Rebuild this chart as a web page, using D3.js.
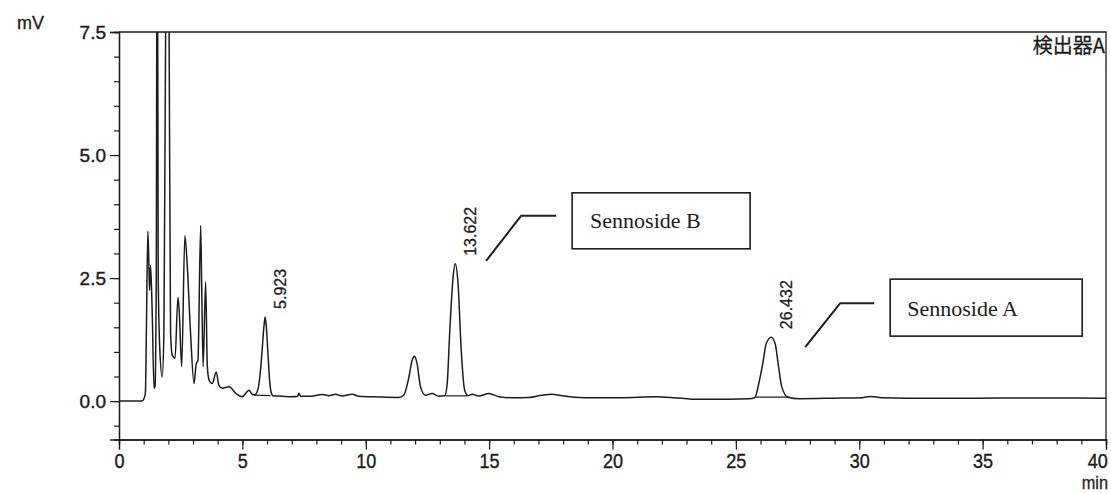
<!DOCTYPE html>
<html>
<head>
<meta charset="utf-8">
<script src="https://cdn.jsdelivr.net/npm/d3@7/dist/d3.min.js"></script>
<style>
  html, body { margin: 0; padding: 0; background: #fff; }
  svg { display: block; }
</style>
</head>
<body>
<svg id="chart" width="1111" height="493"></svg>
<script>
// Chromatogram trace: retention time (min) and detector signal (mV)
const timeMin = [
  0.00, 0.50, 0.93, 1.01, 1.07, 1.11, 1.17, 1.21, 1.24, 1.28,
  1.35, 1.42, 1.46, 1.51, 1.55, 1.59, 1.65, 1.75, 1.82, 1.89,
  1.96, 2.03, 2.09, 2.16, 2.27, 2.39, 2.44, 2.54, 2.67, 2.77,
  2.90, 3.04, 3.13, 3.20, 3.31, 3.35, 3.41, 3.51, 3.58, 3.65,
  3.78, 3.94, 4.05, 4.18, 4.46, 4.73, 4.99, 5.27, 5.40, 5.50,
  5.62, 5.72, 5.80, 5.88, 5.923, 5.97, 6.03, 6.10, 6.16, 6.24,
  6.60, 7.00, 7.24, 7.29, 7.36, 7.80, 8.23, 8.50, 8.78, 9.04,
  9.45, 9.72, 10.50, 11.34, 11.54, 11.75, 11.88, 11.98, 12.08, 12.22,
  12.42, 12.69, 12.96, 13.20, 13.30, 13.40, 13.54, 13.622, 13.74, 13.87,
  14.01, 14.15, 14.31, 14.58, 14.99, 15.39, 15.93, 16.61, 17.14, 17.55,
  17.82, 18.87, 20.32, 21.76, 22.50, 23.21, 24.66, 25.53, 25.76, 25.96,
  26.09, 26.23, 26.432, 26.59, 26.73, 26.86, 27.11, 27.56, 29.00, 30.10,
  30.46, 30.90, 31.91, 34.80, 37.70, 39.87, 40.00
];
const signalMv = [
  0.00, 0.00, 0.00, 0.05, 0.17, 1.44, 3.45, 2.80, 2.25, 2.76,
  1.71, 0.26, 0.30, 2.50, 12.0, 2.50, 1.10, 0.49, 1.40, 7.60,
  10.5, 7.60, 1.38, 0.93, 0.87, 2.11, 1.84, 0.70, 3.36, 2.72,
  1.38, 0.36, 0.76, 0.83, 3.57, 2.39, 0.70, 2.42, 0.70, 0.43,
  0.36, 0.59, 0.32, 0.26, 0.29, 0.16, 0.09, 0.22, 0.14, 0.13,
  0.22, 0.55, 1.03, 1.55, 1.71, 1.52, 1.03, 0.45, 0.19, 0.11,
  0.10, 0.09, 0.10, 0.16, 0.10, 0.10, 0.135, 0.11, 0.14, 0.105,
  0.14, 0.10, 0.085, 0.075, 0.12, 0.49, 0.83, 0.91, 0.76, 0.29,
  0.12, 0.155, 0.10, 0.107, 0.35, 1.37, 2.52, 2.79, 2.39, 1.03,
  0.22, 0.11, 0.14, 0.105, 0.155, 0.09, 0.07, 0.075, 0.12, 0.14,
  0.12, 0.07, 0.07, 0.09, 0.07, 0.04, 0.04, 0.05, 0.07, 0.43,
  0.76, 1.17, 1.30, 1.17, 0.70, 0.29, 0.08, 0.05, 0.06, 0.07,
  0.095, 0.07, 0.06, 0.06, 0.065, 0.06, 0.06
];

// Axis ticks
const xMajorTicks = [0, 5, 10, 15, 20, 25, 30, 35, 40];
const xMinorTicks = d3.range(0, 41, 1);
const yMajorTicks = [0, 2.5, 5, 7.5];
const yMajorLabels = ["0.0", "2.5", "5.0", "7.5"];
const yMinorTicks = [-0.5, 0, 0.5, 1, 1.5, 2, 2.5, 3, 3.5, 4, 4.5, 5, 5.5, 6, 6.5, 7, 7.5];

// Integrated peaks: apex time / height and the integration baseline
const peakTimes = [5.923, 13.622, 26.432];
const peakHeights = [1.71, 2.79, 1.30];
const baseStartTime = [5.47, 13.23, 25.79];
const baseEndTime = [6.14, 14.11, 27.16];
const baseStartMv = [0.12, 0.107, 0.08];
const baseEndMv = [0.11, 0.107, 0.08];

// Identified compounds
const compoundNames = ["Sennoside B", "Sennoside A"];
const compoundTimes = [13.622, 26.432];
const compoundHeights = [2.79, 1.30];

const detectorName = "検出器A";
const yUnit = "mV";
const xUnit = "min";

// ---- layout ----
const svg = d3.select("#chart");
const plotLeft = 119, plotRight = 1106, plotTop = 32, plotBottom = 439.5;
const ink = "#1c1c1c";
const sans = "'Liberation Sans', Arial, sans-serif";

const x = d3.scaleLinear().domain([0, 40]).range([plotLeft, plotRight]);
const y = d3.scaleLinear().domain([-0.78, 7.5]).range([plotBottom, plotTop]);

svg.append("defs").append("clipPath").attr("id", "plot-clip")
  .append("rect").attr("x", plotLeft).attr("y", plotTop)
  .attr("width", plotRight - plotLeft).attr("height", plotBottom - plotTop);

// frame: top and right edges
svg.append("path")
  .attr("d", `M${plotLeft},${plotTop}H${plotRight}V${plotBottom}`)
  .attr("fill", "none").attr("stroke", ink).attr("stroke-width", 1.3);

// x axis: minor + major ticks
const xMinor = svg.append("g").attr("transform", `translate(0,${plotBottom})`)
  .call(d3.axisBottom(x).tickValues(xMinorTicks).tickSize(5).tickFormat(""));
const xMajor = svg.append("g").attr("transform", `translate(0,${plotBottom})`)
  .call(d3.axisBottom(x).tickValues(xMajorTicks).tickSize(10).tickPadding(4).tickFormat(d3.format("d")));
[xMinor, xMajor].forEach(g => {
  g.select(".domain").attr("stroke", ink).attr("stroke-width", 1.3);
  g.selectAll(".tick line").attr("stroke", ink).attr("stroke-width", 1.2);
});
xMajor.selectAll(".tick text")
  .attr("font-family", sans).attr("font-size", 21).attr("fill", ink)
  .attr("stroke", ink).attr("stroke-width", 0.4)
  .attr("transform", "scale(0.86,1)")
  // the last label sits flush against the right edge of the frame
  .filter(d => d === 40).attr("text-anchor", "end").attr("x", 1.5);

// y axis: minor + major ticks
const yMinor = svg.append("g").attr("transform", `translate(${plotLeft},0)`)
  .call(d3.axisLeft(y).tickValues(yMinorTicks).tickSize(5).tickFormat(""));
const yMajor = svg.append("g").attr("transform", `translate(${plotLeft},0)`)
  .call(d3.axisLeft(y).tickValues(yMajorTicks).tickSize(9).tickPadding(4)
    .tickFormat((d, i) => yMajorLabels[i]));
[yMinor, yMajor].forEach(g => {
  g.select(".domain").attr("stroke", ink).attr("stroke-width", 1.3);
  g.selectAll(".tick line").attr("stroke", ink).attr("stroke-width", 1.2);
});
yMajor.selectAll(".tick text")
  .attr("font-family", sans).attr("font-size", 19).attr("fill", ink)
  .attr("stroke", ink).attr("stroke-width", 0.4);

// unit labels
svg.append("text").attr("x", 17).attr("y", 29).text(yUnit)
  .attr("font-family", sans).attr("font-size", 18).attr("fill", ink)
  .attr("stroke", ink).attr("stroke-width", 0.3);
svg.append("text").attr("transform", `translate(${plotRight + 2},489) scale(0.86,1)`)
  .attr("text-anchor", "end").text(xUnit)
  .attr("font-family", sans).attr("font-size", 19).attr("fill", ink)
  .attr("stroke", ink).attr("stroke-width", 0.3);

// detector name
svg.append("text").attr("x", plotRight - 1).attr("y", 53).attr("text-anchor", "end")
  .text(detectorName)
  .attr("font-family", "'Noto Sans CJK JP', 'Noto Sans CJK SC', sans-serif")
  .attr("font-size", 20).attr("fill", ink)
  .attr("stroke", ink).attr("stroke-width", 0.3);

// trace
const points = timeMin.map((t, i) => [t, signalMv[i]]);
const line = d3.line().x(d => x(d[0])).y(d => y(d[1])).curve(d3.curveMonotoneX);
svg.append("path").datum(points)
  .attr("clip-path", "url(#plot-clip)")
  .attr("d", line)
  .attr("fill", "none").attr("stroke", ink).attr("stroke-width", 1.5)
  .attr("stroke-linejoin", "round");

// integration baselines
svg.append("g").selectAll("line").data(peakTimes).join("line")
  .attr("x1", (d, i) => x(baseStartTime[i])).attr("y1", (d, i) => y(baseStartMv[i]))
  .attr("x2", (d, i) => x(baseEndTime[i])).attr("y2", (d, i) => y(baseEndMv[i]))
  .attr("stroke", ink).attr("stroke-width", 1.2);

// retention time labels
svg.append("g").selectAll("text").data(peakTimes).join("text")
  .attr("transform", (d, i) => `translate(${x(d) + 21},${y(peakHeights[i]) - 8}) rotate(-90)`)
  .text(d => d.toFixed(3))
  .attr("font-family", sans).attr("font-size", 16).attr("fill", ink)
  .attr("stroke", ink).attr("stroke-width", 0.3);

// compound callouts (leader line + boxed name), offsets from the peak apex
const callout = [
  { lead: [[31, -3], [66, -48], [101, -48]], box: [117, -71, 178, 56], text: [135, -36] },
  { lead: [[34, 10], [69, -34], [103, -34]], box: [119, -58, 192, 57], text: [136, -21] }
];
compoundNames.forEach((name, i) => {
  const px = x(compoundTimes[i]), py = y(compoundHeights[i]);
  const c = callout[i];
  svg.append("path")
    .attr("d", d3.line()(c.lead.map(p => [px + p[0], py + p[1]])))
    .attr("fill", "none").attr("stroke", ink).attr("stroke-width", 2);
  svg.append("rect")
    .attr("x", px + c.box[0]).attr("y", py + c.box[1])
    .attr("width", c.box[2]).attr("height", c.box[3])
    .attr("fill", "none").attr("stroke", ink).attr("stroke-width", 1.6);
  svg.append("text")
    .attr("x", px + c.text[0]).attr("y", py + c.text[1])
    .text(name)
    .attr("font-family", "'Liberation Serif', 'Times New Roman', serif")
    .attr("font-size", 22).attr("fill", ink);
});
</script>
</body>
</html>
